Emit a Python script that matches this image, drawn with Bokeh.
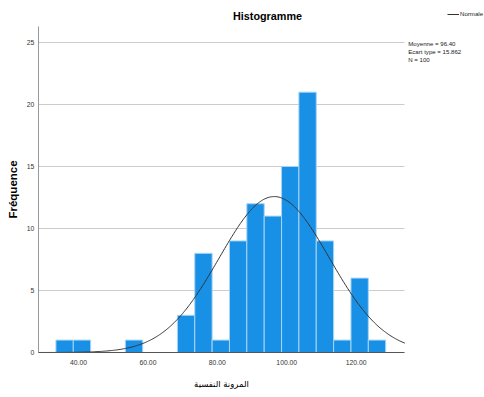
import numpy as np
from bokeh.plotting import figure
from bokeh.models import Label, ColumnDataSource, Range1d, FixedTicker, Legend, LegendItem
from bokeh.embed import file_html
from bokeh.resources import INLINE

# ---- data ----
bin_left = [33.5, 38.5, 43.5, 48.5, 53.5, 58.5, 63.5, 68.5, 73.5, 78.5,
            83.5, 88.5, 93.5, 98.5, 103.5, 108.5, 113.5, 118.5, 123.5]
counts = [1, 1, 0, 0, 1, 0, 0, 3, 8, 1, 9, 12, 11, 15, 21, 9, 1, 6, 1]
bin_width = 5.0
x_ticks = [40, 60, 80, 100, 120]
x_tick_labels = ["40.00", "60.00", "80.00", "100.00", "120.00"]
y_ticks = [0, 5, 10, 15, 20, 25]
mean_val = 96.40
sd_val = 15.862
n_val = 100

# plot-area bounds (data units)
X0, X1 = 28.4, 134.0
Y0, Y1 = 0.0, 26.3

SANS = "Liberation Sans, Arial, sans-serif"

left = [b for b, c in zip(bin_left, counts) if c > 0]
right = [b + bin_width for b, c in zip(bin_left, counts) if c > 0]
top = [c for c in counts if c > 0]
src = ColumnDataSource(dict(left=left, right=right, top=top, bottom=[0] * len(top)))

p = figure(width=484, height=397, output_backend="svg", toolbar_location=None,
           x_range=Range1d(17.53, 156.97), y_range=Range1d(-3.629, 28.39),
           min_border=0)
p.title.visible = False
p.outline_line_color = None
p.background_fill_color = "white"
p.border_fill_color = "white"

# grid
p.xgrid.visible = False
p.ygrid.ticker = FixedTicker(ticks=[t for t in y_ticks if t > 0])
p.ygrid.grid_line_color = "#cccccc"
try:
    p.ygrid.cross_bounds = (X0, X1)
    p.ygrid.bounds = (Y0, Y1)
except Exception:
    p.ygrid.visible = False
    gy = [t for t in y_ticks if t > 0]
    p.segment(x0=[X0] * len(gy), x1=[X1] * len(gy), y0=gy, y1=gy, line_color="#cccccc", line_width=1)

p.quad(left="left", right="right", top="top", bottom="bottom", source=src,
       fill_color="#1890e6", line_color="#a8d4f5", line_width=1)

xs = np.linspace(X0, X1, 400)
ys = n_val * bin_width / (sd_val * np.sqrt(2 * np.pi)) * np.exp(-0.5 * ((xs - mean_val) / sd_val) ** 2)
curve = p.line(xs, ys, line_color="#333333", line_width=1)

# axes, placed inside the frame
p.xaxis.fixed_location = Y0
p.xaxis.bounds = (X0, X1)
p.yaxis.fixed_location = X0
p.yaxis.bounds = (Y0, Y1)
p.xaxis.ticker = FixedTicker(ticks=x_ticks)
p.xaxis.major_label_overrides = {t: l for t, l in zip(x_ticks, x_tick_labels)}
p.yaxis.ticker = FixedTicker(ticks=y_ticks)
for ax in (p.xaxis, p.yaxis):
    ax.major_tick_out = 0
    ax.major_tick_in = 0
    ax.minor_tick_out = 0
    ax.minor_tick_in = 0
    ax.major_label_text_font = SANS
    ax.major_label_text_font_size = "6.8px"
    ax.major_label_text_color = "#333333"
p.yaxis.axis_line_color = "#999999"
p.xaxis.axis_line_color = "#555555"
p.xaxis.major_label_standoff = 7
p.yaxis.major_label_standoff = 4

p.yaxis.axis_label = "Fréquence"
p.yaxis.axis_label_text_font = SANS
p.yaxis.axis_label_text_font_style = "bold"
p.yaxis.axis_label_text_font_size = "11.5px"
p.yaxis.axis_label_text_color = "black"
p.yaxis.axis_label_standoff = 5

p.xaxis.axis_label = "المرونة النفسية"
p.xaxis.axis_label_text_font = "DejaVu Sans"
p.xaxis.axis_label_text_font_style = "normal"
p.xaxis.axis_label_text_font_size = "8.5px"
p.xaxis.axis_label_text_color = "black"
p.xaxis.axis_label_standoff = 11

# title
p.add_layout(Label(x=94.45, y=27.1, text="Histogramme", text_font=SANS,
                   text_font_style="bold", text_font_size="10.8px", text_color="black",
                   text_align="center", text_baseline="middle"))

# statistics box
stats = ["Moyenne = %.2f" % mean_val, "Ecart type = %.3f" % sd_val, "N = %d" % n_val]
for i, s in enumerate(stats):
    p.add_layout(Label(x=135.0, y=24.92 - i * 0.645, text=s, text_font=SANS,
                       text_font_size="6.1px", text_color="#222222",
                       text_align="left", text_baseline="middle"))

# legend for the normal curve
legend = Legend(items=[LegendItem(label="Normale", renderers=[curve])],
                location=(447, 380), orientation="vertical",
                glyph_width=12, glyph_height=6, label_height=6, label_standoff=1,
                padding=0, margin=0, spacing=0,
                label_text_font=SANS, label_text_font_size="6.1px", label_text_color="#222222",
                border_line_color=None, background_fill_alpha=0)
p.add_layout(legend)

open("out.html", "w").write(file_html(p, INLINE))
